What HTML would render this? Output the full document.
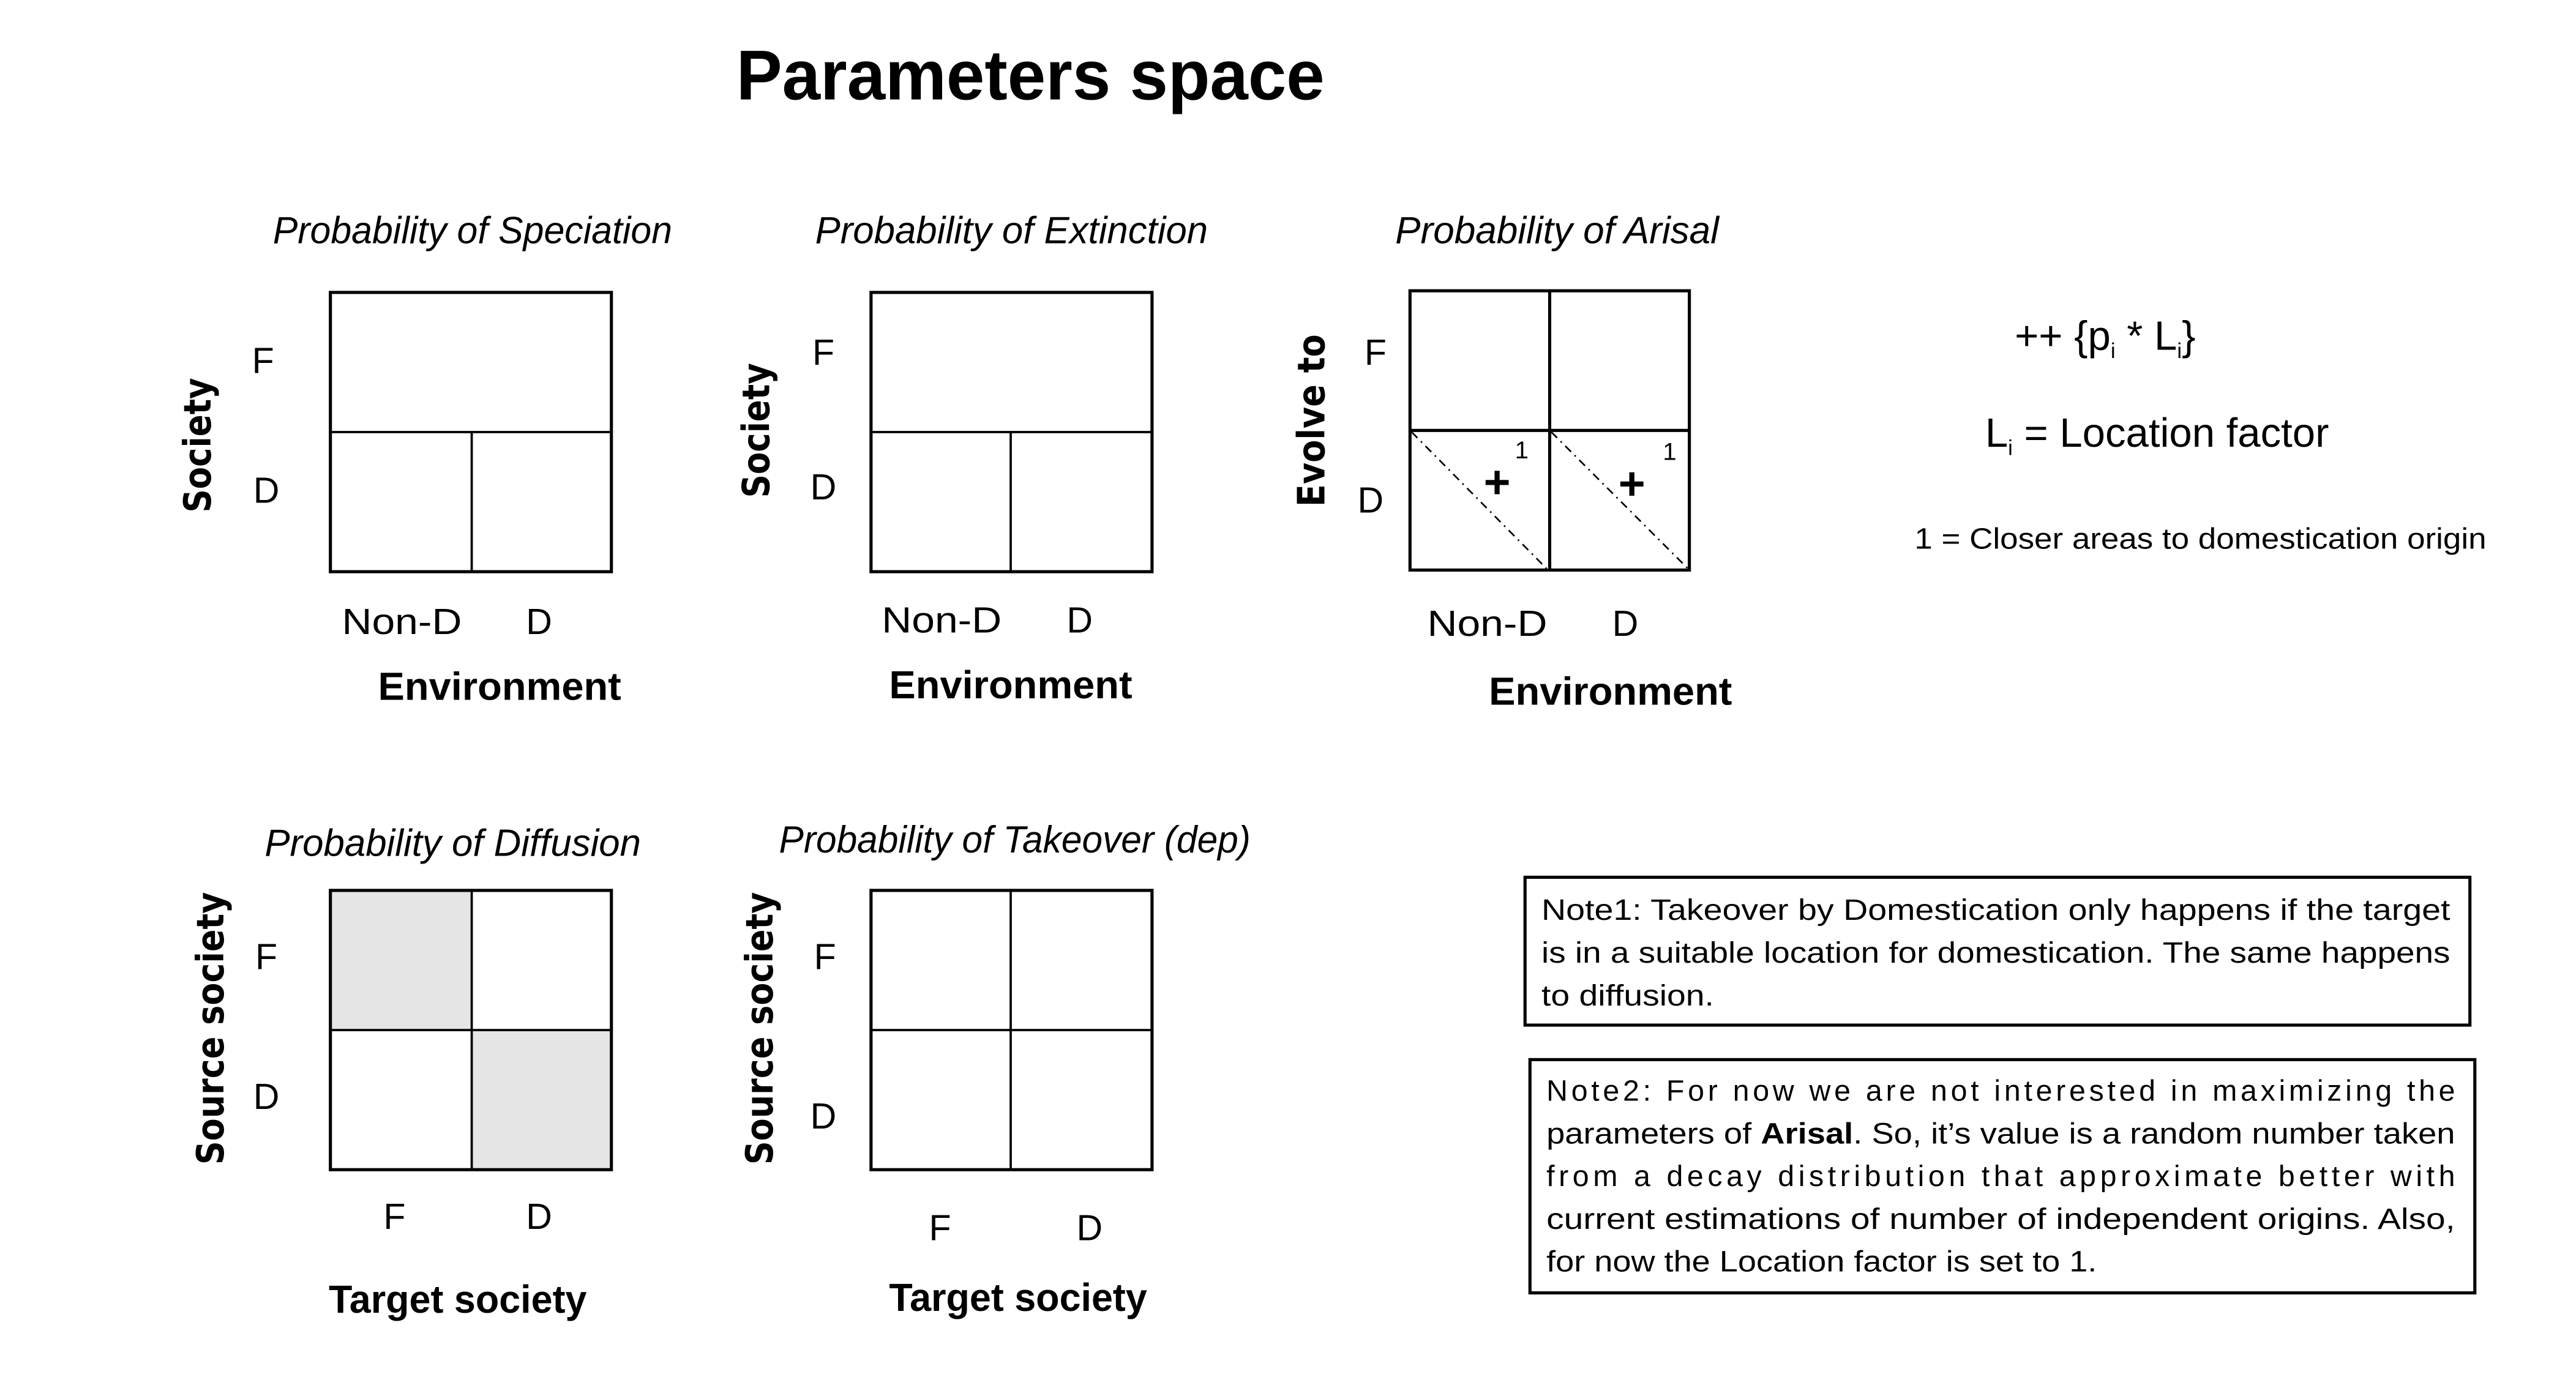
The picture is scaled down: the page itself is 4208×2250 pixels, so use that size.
<!DOCTYPE html>
<html><head><meta charset="utf-8"><style>
html,body{margin:0;padding:0;background:#fff;width:4208px;height:2250px;overflow:hidden}
svg{display:block}
.c{font-family:"Liberation Sans",sans-serif;fill:#000}
.i{font-style:italic}
.b{font-weight:bold}
.v{font-family:"DejaVu Sans","Liberation Sans",sans-serif;font-weight:bold}
.box{fill:none;stroke:#000;stroke-width:1.9}
.ln{stroke:#000;stroke-width:1.4}
</style></head><body>
<svg width="4208" height="2250" viewBox="0 0 1567.5 838.2" xmlns="http://www.w3.org/2000/svg">
<text class="c b" x="448" y="60.5" font-size="43" textLength="358" lengthAdjust="spacingAndGlyphs">Parameters space</text>

<g>
<text class="c i" x="166" y="148" font-size="23" textLength="243" lengthAdjust="spacingAndGlyphs">Probability of Speciation</text>
<rect class="box" x="201" y="178" width="171" height="170"/>
<line class="ln" x1="201" y1="263" x2="372" y2="263"/>
<line class="ln" x1="287" y1="263" x2="287" y2="348"/>
<text class="c" x="160" y="227" font-size="22" text-anchor="middle">F</text>
<text class="c" x="162" y="306" font-size="22" text-anchor="middle">D</text>
<text class="v" transform="translate(128,271) rotate(-90)" font-size="23" text-anchor="middle" textLength="82" lengthAdjust="spacingAndGlyphs">Society</text>
<text class="c" x="244.5" y="386" font-size="22" text-anchor="middle" textLength="73" lengthAdjust="spacingAndGlyphs">Non-D</text>
<text class="c" x="328" y="386" font-size="22" text-anchor="middle">D</text>
<text class="c b" x="304" y="426" font-size="24" text-anchor="middle" textLength="148" lengthAdjust="spacingAndGlyphs">Environment</text>
</g>

<g>
<text class="c i" x="496" y="148" font-size="23" textLength="239" lengthAdjust="spacingAndGlyphs">Probability of Extinction</text>
<rect class="box" x="530" y="178" width="171" height="170"/>
<line class="ln" x1="530" y1="263" x2="701" y2="263"/>
<line class="ln" x1="615" y1="263" x2="615" y2="348"/>
<text class="c" x="501" y="222" font-size="22" text-anchor="middle">F</text>
<text class="c" x="501" y="304" font-size="22" text-anchor="middle">D</text>
<text class="v" transform="translate(468,262) rotate(-90)" font-size="23" text-anchor="middle" textLength="82" lengthAdjust="spacingAndGlyphs">Society</text>
<text class="c" x="573" y="385" font-size="22" text-anchor="middle" textLength="73" lengthAdjust="spacingAndGlyphs">Non-D</text>
<text class="c" x="657" y="385" font-size="22" text-anchor="middle">D</text>
<text class="c b" x="615" y="425" font-size="24" text-anchor="middle" textLength="148" lengthAdjust="spacingAndGlyphs">Environment</text>
</g>

<g>
<text class="c i" x="849" y="148" font-size="23" textLength="197" lengthAdjust="spacingAndGlyphs">Probability of Arisal</text>
<rect class="box" x="858" y="177" width="170" height="170"/>
<line class="ln" x1="858" y1="262" x2="1028" y2="262" style="stroke-width:1.9"/>
<line class="ln" x1="943" y1="177" x2="943" y2="347" style="stroke-width:1.9"/>
<line x1="859" y1="263" x2="941" y2="346" stroke="#000" stroke-width="1" stroke-dasharray="5,3,1,3"/>
<line x1="944" y1="263" x2="1027" y2="346" stroke="#000" stroke-width="1" stroke-dasharray="5,3,1,3"/>
<text class="c b" x="911" y="303" font-size="28" text-anchor="middle">+</text>
<text class="c b" x="993" y="304" font-size="28" text-anchor="middle">+</text>
<text class="c" x="926" y="279" font-size="15" text-anchor="middle">1</text>
<text class="c" x="1016" y="280" font-size="15" text-anchor="middle">1</text>
<text class="c" x="837" y="222" font-size="22" text-anchor="middle">F</text>
<text class="c" x="834" y="312" font-size="22" text-anchor="middle">D</text>
<text class="v" transform="translate(806,256) rotate(-90)" font-size="23" text-anchor="middle" textLength="105" lengthAdjust="spacingAndGlyphs">Evolve to</text>
<text class="c" x="905" y="387" font-size="22" text-anchor="middle" textLength="73" lengthAdjust="spacingAndGlyphs">Non-D</text>
<text class="c" x="989" y="387" font-size="22" text-anchor="middle">D</text>
<text class="c b" x="980" y="429" font-size="24" text-anchor="middle" textLength="148" lengthAdjust="spacingAndGlyphs">Environment</text>
</g>

<g>
<text class="c" x="1226" y="213" font-size="25">++ {p<tspan font-size="13" dy="5">i</tspan><tspan dy="-5"> * L</tspan><tspan font-size="13" dy="5">i</tspan><tspan dy="-5">}</tspan></text>
<text class="c" x="1208" y="272" font-size="25">L<tspan font-size="13" dy="5">i</tspan><tspan dy="-5"> = Location factor</tspan></text>
<text class="c" x="1165" y="334" font-size="18" textLength="348" lengthAdjust="spacingAndGlyphs">1 = Closer areas to domestication origin</text>
</g>

<g>
<text class="c i" x="161" y="521" font-size="23" textLength="229" lengthAdjust="spacingAndGlyphs">Probability of Diffusion</text>
<rect x="201" y="542" width="86" height="85" fill="#e5e5e5"/>
<rect x="287" y="627" width="85" height="85" fill="#e5e5e5"/>
<rect class="box" x="201" y="542" width="171" height="170"/>
<line class="ln" x1="201" y1="627" x2="372" y2="627"/>
<line class="ln" x1="287" y1="542" x2="287" y2="712"/>
<text class="c" x="162" y="590" font-size="22" text-anchor="middle">F</text>
<text class="c" x="162" y="675" font-size="22" text-anchor="middle">D</text>
<text class="v" transform="translate(136,626) rotate(-90)" font-size="23" text-anchor="middle" textLength="166" lengthAdjust="spacingAndGlyphs">Source society</text>
<text class="c" x="240" y="748" font-size="22" text-anchor="middle">F</text>
<text class="c" x="328" y="748" font-size="22" text-anchor="middle">D</text>
<text class="c b" x="278.5" y="799" font-size="24" text-anchor="middle" textLength="157" lengthAdjust="spacingAndGlyphs">Target society</text>
</g>

<g>
<text class="c i" x="474" y="519" font-size="23" textLength="287" lengthAdjust="spacingAndGlyphs">Probability of Takeover (dep)</text>
<rect class="box" x="530" y="542" width="171" height="170"/>
<line class="ln" x1="530" y1="627" x2="701" y2="627"/>
<line class="ln" x1="615" y1="542" x2="615" y2="712"/>
<text class="c" x="502" y="590" font-size="22" text-anchor="middle">F</text>
<text class="c" x="501" y="687" font-size="22" text-anchor="middle">D</text>
<text class="v" transform="translate(470,626) rotate(-90)" font-size="23" text-anchor="middle" textLength="166" lengthAdjust="spacingAndGlyphs">Source society</text>
<text class="c" x="572" y="755" font-size="22" text-anchor="middle">F</text>
<text class="c" x="663" y="755" font-size="22" text-anchor="middle">D</text>
<text class="c b" x="619.5" y="798" font-size="24" text-anchor="middle" textLength="157" lengthAdjust="spacingAndGlyphs">Target society</text>
</g>

<g>
<rect class="box" x="928" y="534" width="575" height="90"/>
<text class="c" x="938" y="560" font-size="18" textLength="553" lengthAdjust="spacingAndGlyphs">Note1: Takeover by Domestication only happens if the target</text>
<text class="c" x="938" y="586" font-size="18" textLength="553" lengthAdjust="spacingAndGlyphs">is in a suitable location for domestication. The same happens</text>
<text class="c" x="938" y="612" font-size="18" textLength="105" lengthAdjust="spacingAndGlyphs">to diffusion.</text>
</g>
<g>
<rect class="box" x="931" y="645" width="575" height="142"/>
<text class="c" x="941" y="670" font-size="18" textLength="553" lengthAdjust="spacing">Note2: For now we are not interested in maximizing the</text>
<text class="c" x="941" y="696" font-size="18" textLength="553" lengthAdjust="spacingAndGlyphs">parameters of <tspan font-weight="bold">Arisal</tspan>. So, it’s value is a random number taken</text>
<text class="c" x="941" y="722" font-size="18" textLength="553" lengthAdjust="spacing">from a decay distribution that approximate better with</text>
<text class="c" x="941" y="748" font-size="18" textLength="553" lengthAdjust="spacingAndGlyphs">current estimations of number of independent origins. Also,</text>
<text class="c" x="941" y="774" font-size="18" textLength="335" lengthAdjust="spacingAndGlyphs">for now the Location factor is set to 1.</text>
</g>
</svg>
</body></html>
